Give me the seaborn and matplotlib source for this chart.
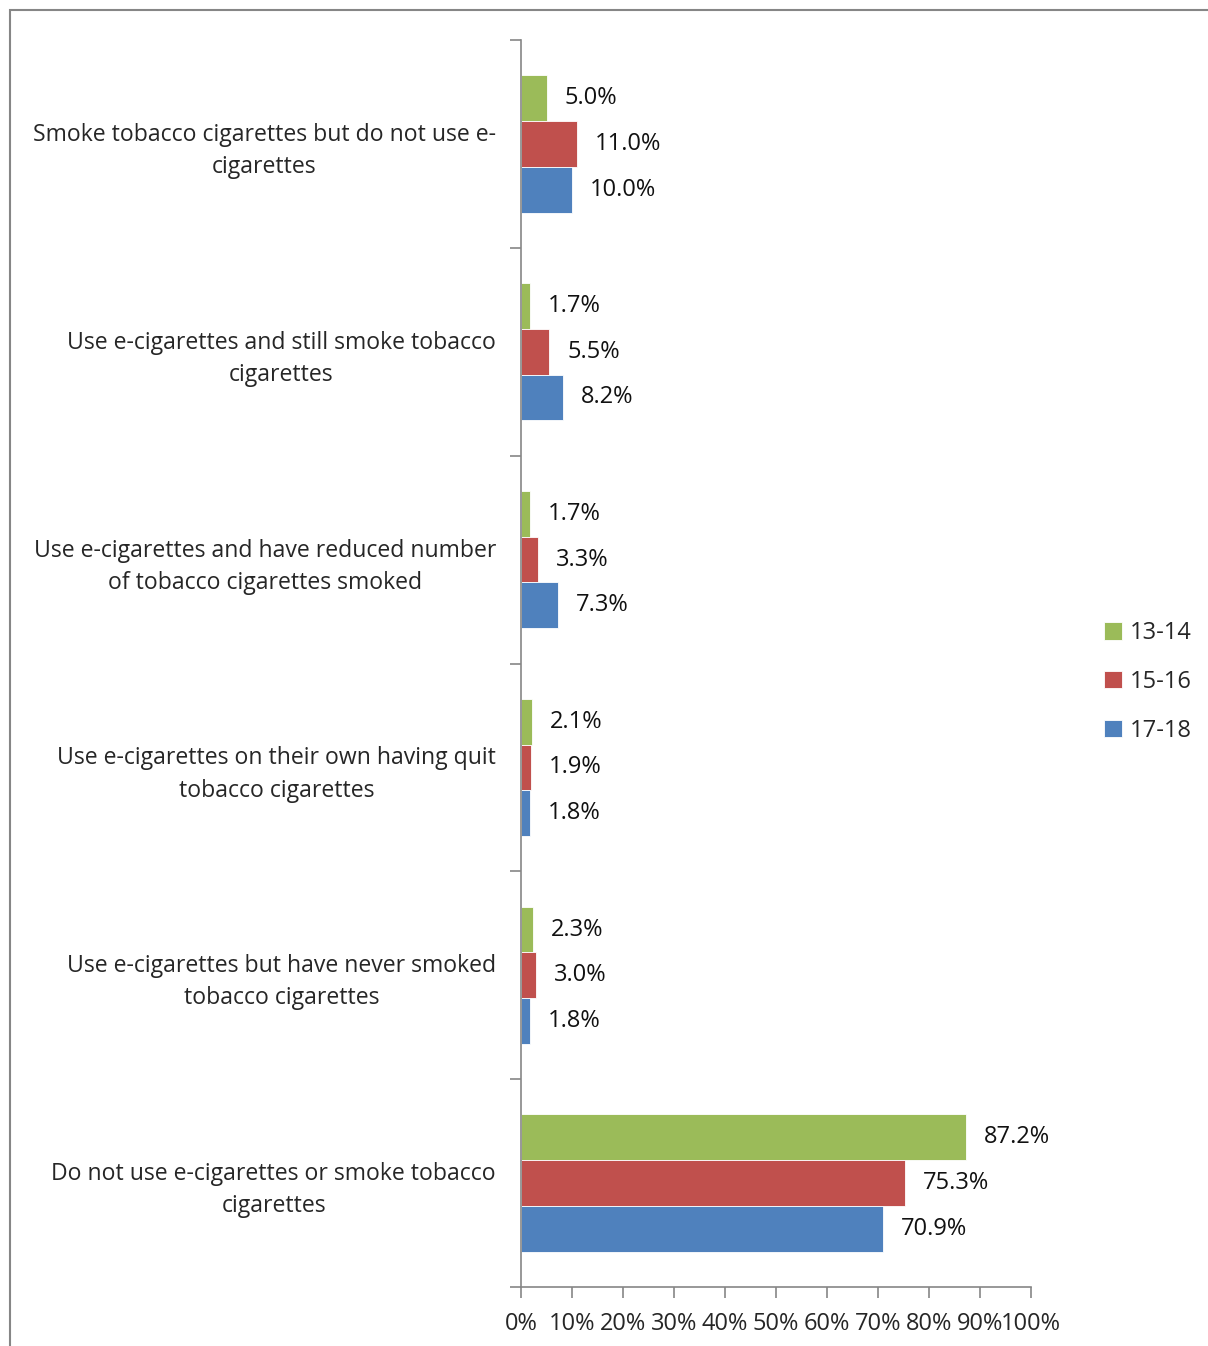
import matplotlib
matplotlib.use('Agg')
import matplotlib.pyplot as plt
import pandas as pd
import seaborn as sns
from matplotlib.patches import Rectangle

categories = [
    "Smoke tobacco cigarettes but do not use e-\ncigarettes",
    "Use e-cigarettes and still smoke tobacco\ncigarettes",
    "Use e-cigarettes and have reduced number\nof tobacco cigarettes smoked",
    "Use e-cigarettes on their own having quit\ntobacco cigarettes",
    "Use e-cigarettes but have never smoked\ntobacco cigarettes",
    "Do not use e-cigarettes or smoke tobacco\ncigarettes",
]
age_groups = ["13-14", "15-16", "17-18"]
vals_13_14 = [5.0, 1.7, 1.7, 2.1, 2.3, 87.2]
vals_15_16 = [11.0, 5.5, 3.3, 1.9, 3.0, 75.3]
vals_17_18 = [10.0, 8.2, 7.3, 1.8, 1.8, 70.9]
colors = ["#9BBB59", "#C0504D", "#4F81BD"]
x_ticks = [0, 10, 20, 30, 40, 50, 60, 70, 80, 90, 100]

rows = []
for grp, vals in zip(age_groups, [vals_13_14, vals_15_16, vals_17_18]):
    for cat, v in zip(categories, vals):
        rows.append({"category": cat, "age": grp, "value": v})
df = pd.DataFrame(rows)

sns.set_style("white")
plt.rcParams['font.family'] = ['Open Sans', 'DejaVu Sans']
FS = 17

fig = plt.figure(figsize=(12.08, 13.46), dpi=100)
ax = fig.add_axes([521 / 1208, 1 - 1287 / 1346, 510 / 1208, 1247 / 1346])

sns.barplot(data=df, y="category", x="value", hue="age", order=categories,
            hue_order=age_groups, palette=colors, saturation=1, orient="h",
            width=0.66, edgecolor="white", linewidth=0.6, ax=ax, legend=True)

for cont in ax.containers:
    ax.bar_label(cont, fmt="%.1f%%", padding=13, fontsize=FS, color="#111111")

ax.set_xlim(0, 100)
ax.set_ylim(5.5, -0.5)
ax.set_xticks(x_ticks)
ax.set_xticklabels([f"{t}%" for t in x_ticks], fontsize=FS)
ax.set_xlabel("")
ax.set_ylabel("")

# category boundaries as ticks on the y axis
ax.set_yticks([i - 0.5 for i in range(len(categories) + 1)], minor=True)
ax.tick_params(axis="y", which="major", left=False, length=0, pad=18, labelsize=16.6)
ax.tick_params(axis="y", which="minor", left=True, length=8, direction="out",
               color="#868686", width=1.2)
ax.tick_params(axis="x", bottom=True, length=8, direction="out", color="#868686",
               width=1.2, pad=10)
for lab in ax.get_yticklabels():
    lab.set_multialignment("center")
    lab.set_linespacing(1.45)

for side in ["top", "right"]:
    ax.spines[side].set_visible(False)
for side in ["left", "bottom"]:
    ax.spines[side].set_color("#868686")
    ax.spines[side].set_linewidth(1.2)

handles, labels = ax.get_legend_handles_labels()
ax.get_legend().remove()
fig.legend(handles, labels, loc="center left", bbox_to_anchor=(1083 / 1208, 1 - 682 / 1346),
           frameon=False, fontsize=FS, handlelength=0.75, handleheight=0.75,
           handletextpad=0.35, labelspacing=1.05)

# chart border (cropped on right and bottom)
fig.patches.append(Rectangle((10 / 1208, -0.1), 1.2, 1 - 10 / 1346 + 0.1,
                             transform=fig.transFigure, fill=False,
                             edgecolor="#868686", linewidth=1.5))

fig.savefig("out.png", dpi=100)
